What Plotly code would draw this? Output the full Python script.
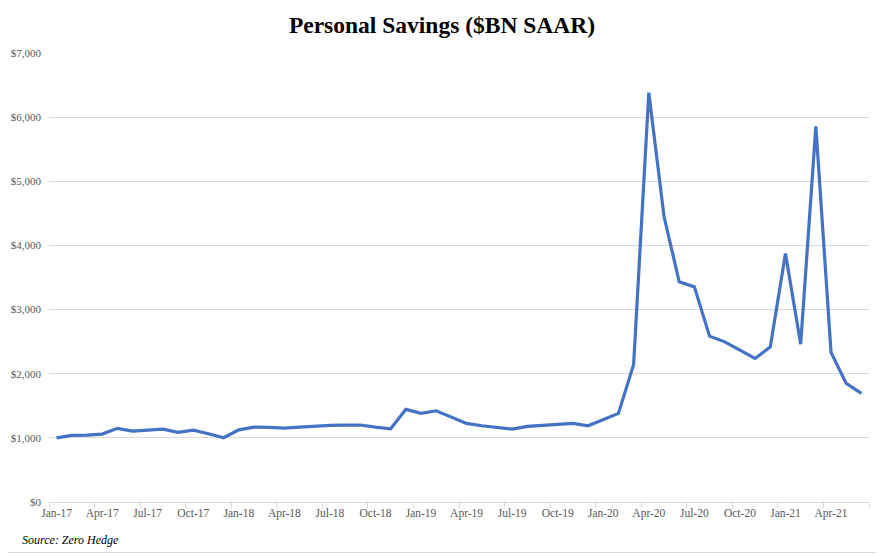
import plotly.graph_objects as go

months = ["Jan", "Feb", "Mar", "Apr", "May", "Jun", "Jul", "Aug", "Sep", "Oct", "Nov", "Dec"]
categories = [f"{m}-{y}" for y in ["17", "18", "19", "20", "21"] for m in months][:54]

savings = [
    1000, 1039, 1044, 1059, 1148, 1106, 1121, 1137, 1085, 1121, 1064, 1002,
    1125, 1168, 1163, 1153, 1168, 1184, 1194, 1200, 1200, 1168, 1142, 1444,
    1381, 1422, 1329, 1226, 1189, 1163, 1137, 1179, 1194, 1200, 1226, 1189,
    1282, 1381, 2145, 6381, 4455, 3432, 3354, 2586, 2497, 2368, 2238, 2419,
    3874, 2461, 5857, 2332, 1849, 1693,
]

y_ticks = [0, 1000, 2000, 3000, 4000, 5000, 6000, 7000]
y_labels = [f"${v:,}" for v in y_ticks]

# page is rendered with an 8px body offset; compensate in margins
OFF = 8
W, H = 884, 554
L, R, T, B = 49 - OFF, 884 - (869 - OFF), 53 - OFF, 554 - (502 - OFF)
pw, ph = W - L - R, H - T - B

fig = go.Figure()
fig.add_trace(go.Scatter(
    x=categories, y=savings, mode="lines",
    line=dict(color="#4472C4", width=3.2),
    hoverinfo="x+y",
))

serif = "Liberation Serif, Times New Roman, serif"
fig.update_layout(
    width=W, height=H,
    margin=dict(l=L, r=R, t=T, b=B, autoexpand=False),
    paper_bgcolor="white", plot_bgcolor="white",
    showlegend=False,
    title=dict(
        text="<b>Personal Savings ($BN SAAR)</b>",
        x=(442 - OFF) / W, xanchor="center", y=1 - (25 - OFF) / H, yanchor="middle", yref="container",
        xref="container",
        font=dict(family=serif, size=23.5, color="#000000"),
    ),
    xaxis=dict(
        type="category", categoryorder="array", categoryarray=categories,
        tickmode="linear", tick0=0, dtick=3,
        tickson="boundaries",
        ticks="outside", ticklen=5, tickcolor="#d9d9d9",
        showline=True, linecolor="#d9d9d9", linewidth=1,
        showgrid=False, zeroline=False,
        tickangle=0, automargin=False,
        tickfont=dict(family=serif, size=11.5, color="#595959"),
        range=[-0.5, len(categories) - 0.5],
    ),
    yaxis=dict(
        range=[0, 7000], tickvals=y_ticks, ticktext=y_labels,
        showgrid=True, gridcolor="#d9d9d9", gridwidth=1,
        zeroline=False, showline=False, ticks="",
        automargin=False, ticklabelstandoff=7,
        tickfont=dict(family=serif, size=11, color="#595959"),
    ),
    annotations=[dict(
        text="<i>Source: Zero Hedge</i>",
        xref="paper", yref="paper",
        x=(20 - OFF - L) / pw, y=(H - B - (540 - OFF)) / ph,
        xanchor="left", yanchor="middle", showarrow=False,
        font=dict(family=serif, size=12, color="#000000"),
    )],
    shapes=[dict(
        type="rect", xref="paper", yref="paper",
        x0=(0.5 - OFF - L) / pw, x1=(W - 1.5 - OFF - L) / pw,
        y0=(H - B - (H - 1.5 - OFF)) / ph, y1=(H - B - (0.5 - OFF)) / ph,
        line=dict(color="#d9d9d9", width=1), fillcolor="rgba(0,0,0,0)",
        layer="below",
    )],
)

fig.write_html("out.html")
